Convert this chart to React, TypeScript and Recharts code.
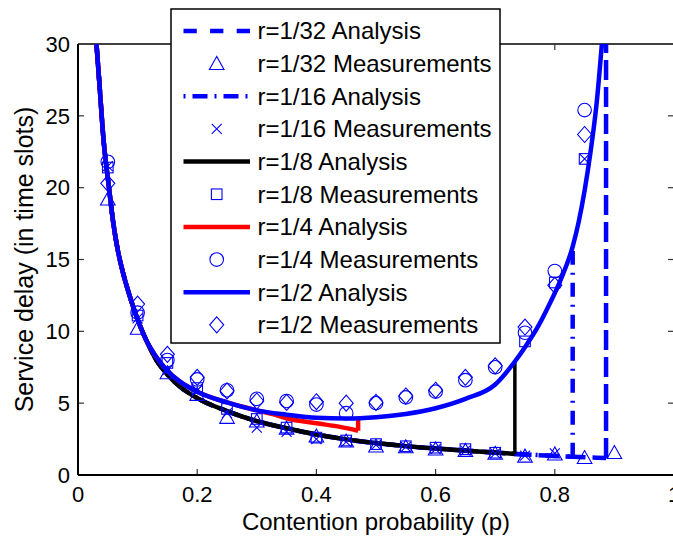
import React from 'react';
import { ComposedChart, Line, Scatter, XAxis, YAxis, Legend, ReferenceLine } from 'recharts';

const FONT = '"Liberation Sans", Arial, Helvetica, sans-serif';
const BLUE = '#0000ff';

// axis ticks
const xTicks = [0, 0.2, 0.4, 0.6, 0.8, 1];
const yTicks = [0, 5, 10, 15, 20, 25, 30];

// steep start shared by all analysis curves
const commonP = [0.031, 0.036, 0.0425, 0.052, 0.059, 0.067, 0.076, 0.085, 0.093, 0.104, 0.115];
const commonDelay = [30, 27.2, 23.5, 20.0, 17.6, 15.6, 14.0, 12.7, 11.66, 10.4, 9.34];

// lower branch (r = 1/32, 1/16, 1/8)
const lowerP = [0.13, 0.15, 0.171, 0.2, 0.25, 0.3, 0.35, 0.4, 0.45, 0.5, 0.55, 0.6, 0.65, 0.7, 0.733, 0.75, 0.8, 0.83, 0.86, 0.886];
const lowerDelay = [8.1, 7.0, 6.15, 5.35, 4.45, 3.75, 3.25, 2.82, 2.48, 2.22, 2.01, 1.84, 1.7, 1.56, 1.47, 1.43, 1.33, 1.27, 1.22, 1.18];

// upper branch (r = 1/2)
const upperP = [0.13, 0.15, 0.171, 0.2, 0.25, 0.3, 0.35, 0.4, 0.45, 0.5, 0.55, 0.6, 0.65, 0.7, 0.733, 0.75, 0.77, 0.79, 0.81, 0.83, 0.84, 0.85, 0.86, 0.87, 0.879];
const upperDelay = [8.3, 7.25, 6.5, 5.8, 5.05, 4.5, 4.2, 3.98, 3.93, 4.02, 4.25, 4.65, 5.3, 6.3, 7.9, 8.9, 10.2, 11.8, 13.6, 15.9, 17.6, 19.8, 22.5, 25.8, 30];

// r = 1/4 branch after it leaves the upper curve
const quarterP = [0.3, 0.33, 0.35, 0.4, 0.44, 0.47];
const quarterDelay = [4.5, 4.2, 3.95, 3.6, 3.35, 3.08];
const quarterTop = 3.95;

// jump points of r = 1/32, 1/16, 1/8 analysis
const cutP = [0.886, 0.83, 0.733];
const cutTop = [30, 15.6, 7.9];

// measurements
const measP = [0.05, 0.1, 0.15, 0.2, 0.25, 0.3, 0.35, 0.4, 0.45, 0.5, 0.55, 0.6, 0.65, 0.7, 0.75, 0.8, 0.85, 0.9];
const meas32 = [19.2, 10.2, 7.1, 5.6, 4.0, 3.75, 3.25, 2.7, 2.35, 2.0, 1.95, 1.8, 1.7, 1.5, 1.3, 1.45, 1.2, 1.55];
const meas16 = [21.5, 10.9, 7.3, 5.9, 4.3, 3.3, 3.0, 2.5, 2.3, 2.1, 1.95, 1.8, 1.7, 1.5, 1.35, 1.5, 22.0];
const meas8 = [21.4, 11.1, 7.8, 6.05, 4.6, 3.9, 3.3, 2.6, 2.4, 2.15, 2.0, 1.9, 1.8, 1.55, 9.3, 13.4, 22.0];
const meas4 = [21.8, 11.3, 8.0, 6.65, 5.9, 5.3, 5.15, 4.9, 4.3, 5.0, 5.4, 5.8, 6.6, 7.5, 9.9, 14.2, 25.4];
const meas2 = [20.3, 11.9, 8.4, 6.8, 5.85, 5.15, 5.05, 5.1, 5.0, 5.05, 5.5, 5.9, 6.8, 7.6, 10.3, 13.2, 23.7];

const legendLabels = [
  'r=1/32 Analysis', 'r=1/32 Measurements',
  'r=1/16 Analysis', 'r=1/16 Measurements',
  'r=1/8 Analysis', 'r=1/8 Measurements',
  'r=1/4 Analysis', 'r=1/4 Measurements',
  'r=1/2 Analysis', 'r=1/2 Measurements',
];

type Pt = { p: number; v: number };
const zip = (ps: number[], vs: number[]): Pt[] => ps.map((p, i) => ({ p, v: vs[i] })).filter((d) => d.v !== undefined);
const common = zip(commonP, commonDelay);
const lower = zip(lowerP, lowerDelay);
const upper = zip(upperP, upperDelay);

const lowerSeries = (k: number): Pt[] => [...common, ...lower.filter((d) => d.p <= cutP[k])];
const jump = (pts: Pt[], top: number): Pt[] => {
  const last = pts[pts.length - 1];
  return [last, { p: last.p, v: top }];
};
const a32 = lowerSeries(0);
const a16 = lowerSeries(1);
const a8 = lowerSeries(2);
const a4 = [...common, ...upper.filter((d) => d.p < quarterP[0]), ...zip(quarterP, quarterDelay)];
const a2 = [...common, ...upper];
const j32 = jump(a32, cutTop[0]);
const j16 = jump(a16, cutTop[1]);
const j8 = jump(a8, cutTop[2]);
const j4 = jump(a4, quarterTop);

const m32 = zip(measP, meas32);
const m16 = zip(measP, meas16);
const m8 = zip(measP, meas8);
const m4 = zip(measP, meas4);
const m2 = zip(measP, meas2);

type Kind = 'tri' | 'x' | 'sq' | 'o' | 'dia';
const markerEl = (kind: Kind, cx: number, cy: number) => {
  const st = { fill: 'none', stroke: BLUE, strokeWidth: 1.1 };
  switch (kind) {
    case 'tri':
      return <polygon {...st} points={`${cx},${cy - 7.2} ${cx - 7.3},${cy + 5.8} ${cx + 7.3},${cy + 5.8}`} />;
    case 'x':
      return <path {...st} d={`M${cx - 5},${cy - 5}L${cx + 5},${cy + 5}M${cx - 5},${cy + 5}L${cx + 5},${cy - 5}`} />;
    case 'sq':
      return <rect {...st} x={cx - 5.3} y={cy - 5.3} width={10.6} height={10.6} />;
    case 'o':
      return <circle {...st} cx={cx} cy={cy} r={6.8} />;
    case 'dia':
    default:
      return <polygon {...st} points={`${cx},${cy - 8} ${cx + 7},${cy} ${cx},${cy + 8} ${cx - 7},${cy}`} />;
  }
};
const shapeOf = (kind: Kind) => (props: any) => {
  const { cx, cy } = props;
  if (cx == null || cy == null || isNaN(cx) || isNaN(cy)) return <g />;
  return markerEl(kind, cx, cy);
};

type LStyle = { line?: { color: string; dash?: string }; marker?: Kind };
const legendStyles: LStyle[] = [
  { line: { color: BLUE, dash: '13.3 13.3' } },
  { marker: 'tri' },
  { line: { color: BLUE, dash: '2 7 15 7' } },
  { marker: 'x' },
  { line: { color: '#000' } },
  { marker: 'sq' },
  { line: { color: '#ff0000' } },
  { marker: 'o' },
  { line: { color: BLUE } },
  { marker: 'dia' },
];

const LegendBox = () => (
  <svg width={332} height={337} style={{ display: 'block' }}>
    <rect x={1} y={1} width={329} height={334} fill="#fff" stroke="#000" strokeWidth={1.5} />
    {legendLabels.map((label, i) => {
      const cy = 23 + 32.65 * i;
      const st = legendStyles[i];
      return (
        <g key={label}>
          {st.line && (
            <line x1={13.5} x2={80} y1={cy} y2={cy} stroke={st.line.color} strokeWidth={4.5} strokeDasharray={st.line.dash} />
          )}
          {st.marker && markerEl(st.marker, 46.7, cy)}
          <text x={87.5} y={cy + 8.3} fontSize={24} fontFamily={FONT} fill="#000">
            {label}
          </text>
        </g>
      );
    })}
  </svg>
);

const YLabel = (props: any) => {
  const vb = props.viewBox || { x: 0, y: 44, width: 78, height: 431 };
  const x = vb.x + 33;
  const y = vb.y + vb.height / 2;
  return (
    <text x={x} y={y} transform={`rotate(-90 ${x} ${y})`} textAnchor="middle" fontSize={25} fontFamily={FONT} fill="#000">
      Service delay (in time slots)
    </text>
  );
};

const XLabel = (props: any) => {
  const vb = props.viewBox || { x: 78, y: 475, width: 596, height: 62 };
  const x = vb.x + vb.width / 2;
  const y = vb.y + vb.height - 7;
  return (
    <text x={x} y={y} textAnchor="middle" fontSize={24} fontFamily={FONT} fill="#000">
      Contention probability (p)
    </text>
  );
};

const tickStyle = { fontSize: 22, fontFamily: FONT, fill: '#000' };
const lineCommon = { dataKey: 'v', dot: false, activeDot: false, isAnimationActive: false, legendType: 'none' as const, strokeWidth: 4.5 };

export default function App() {
  const innerX = xTicks.slice(1, -1);
  const innerY = yTicks.slice(1, -1);
  return (
    <div style={{ position: 'absolute', left: 0, top: 0, width: 673, height: 537, overflow: 'hidden', background: '#fff' }}>
      <ComposedChart width={675} height={537} margin={{ top: 44, right: 1, bottom: 0, left: 0 }}>
        <XAxis
          dataKey="p"
          type="number"
          domain={[0, 1]}
          ticks={xTicks}
          interval={0}
          height={62}
          tickLine={false}
          tickMargin={5}
          tick={tickStyle}
          axisLine={{ stroke: '#000', strokeWidth: 2 }}
          tickFormatter={(v: number) => String(v)}
          label={{ content: XLabel }}
          allowDataOverflow
        />
        <YAxis
          dataKey="v"
          type="number"
          domain={[0, 30]}
          ticks={yTicks}
          interval={0}
          width={78}
          tickLine={false}
          tick={tickStyle}
          axisLine={{ stroke: '#000', strokeWidth: 2 }}
          label={{ content: YLabel }}
          allowDataOverflow
        />
        <ReferenceLine y={30} stroke="#000" strokeWidth={1.5} />
        {innerX.map((t) => (
          <ReferenceLine key={'xb' + t} segment={[{ x: t, y: 0 }, { x: t, y: 0.42 }]} stroke="#333" strokeWidth={1.2} />
        ))}
        {innerX.map((t) => (
          <ReferenceLine key={'xt' + t} segment={[{ x: t, y: 30 }, { x: t, y: 29.58 }]} stroke="#333" strokeWidth={1.2} />
        ))}
        {innerY.map((t) => (
          <ReferenceLine key={'yl' + t} segment={[{ x: 0, y: t }, { x: 0.01, y: t }]} stroke="#333" strokeWidth={1.2} />
        ))}
        {innerY.map((t) => (
          <ReferenceLine key={'yr' + t} segment={[{ x: 0.99, y: t }, { x: 1, y: t }]} stroke="#333" strokeWidth={1.2} />
        ))}
        <Line {...lineCommon} data={a32} type="monotone" stroke={BLUE} strokeDasharray="20 7" />
        <Line {...lineCommon} data={j32} type="linear" stroke={BLUE} strokeDasharray="20 7" />
        <Line {...lineCommon} data={a16} type="monotone" stroke={BLUE} strokeDasharray="14 8 2 8" />
        <Line {...lineCommon} data={j16} type="linear" stroke={BLUE} strokeDasharray="14 8 2 8" />
        <Line {...lineCommon} data={a8} type="monotone" stroke="#000" />
        <Line {...lineCommon} data={j8} type="linear" stroke="#000" strokeWidth={3.5} />
        <Line {...lineCommon} data={a4} type="monotone" stroke="#ff0000" />
        <Line {...lineCommon} data={j4} type="linear" stroke="#ff0000" />
        <Line {...lineCommon} data={a2} type="monotone" stroke={BLUE} />
        <Scatter data={m32} dataKey="v" shape={shapeOf('tri')} isAnimationActive={false} legendType="none" />
        <Scatter data={m16} dataKey="v" shape={shapeOf('x')} isAnimationActive={false} legendType="none" />
        <Scatter data={m8} dataKey="v" shape={shapeOf('sq')} isAnimationActive={false} legendType="none" />
        <Scatter data={m4} dataKey="v" shape={shapeOf('o')} isAnimationActive={false} legendType="none" />
        <Scatter data={m2} dataKey="v" shape={shapeOf('dia')} isAnimationActive={false} legendType="none" />
        <Legend
          layout="horizontal"
          verticalAlign="middle"
          align="center"
          content={() => <LegendBox />}
          wrapperStyle={{ position: 'absolute', left: 170, top: 8, width: 332, height: 337 }}
        />
      </ComposedChart>
    </div>
  );
}
